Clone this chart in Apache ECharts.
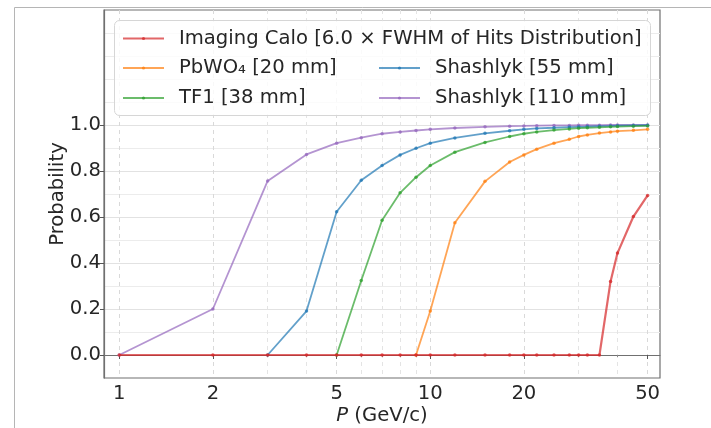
<!DOCTYPE html>
<html>
<head>
<meta charset="utf-8">
<script src="https://cdn.jsdelivr.net/npm/echarts@6/dist/echarts.min.js"></script>
<style>
  html, body { margin: 0; padding: 0; background: #fff; }
  #chart { width: 711px; height: 428px; }
</style>
</head>
<body>
<div id="chart"></div>
<script>
// Momentum grid (GeV/c) shared by all curves; each curve covers the tail of it
const momentum = [1, 2, 3, 4, 5, 6, 7, 8, 9, 10, 12, 15, 18, 20, 22, 25, 28, 30, 32, 35, 38, 40, 45, 50];

const imagingCalo = [0, 0, 0, 0, 0, 0, 0, 0, 0, 0, 0, 0, 0, 0, 0, 0, 0, 0, 0, 0, 0.32, 0.443, 0.602, 0.694];
const pbwo4 = [0, 0.191, 0.575, 0.755, 0.839, 0.870, 0.895, 0.921, 0.938, 0.950, 0.957, 0.965, 0.970, 0.973, 0.977, 0.981];
const tf1 = [0, 0.324, 0.586, 0.705, 0.773, 0.824, 0.882, 0.924, 0.950, 0.962, 0.970, 0.978, 0.983, 0.986, 0.988, 0.990, 0.992, 0.993, 0.995, 0.996];
const shashlyk55 = [0, 0.191, 0.623, 0.760, 0.824, 0.870, 0.899, 0.921, 0.944, 0.964, 0.975, 0.981, 0.985, 0.988, 0.991, 0.992, 0.993, 0.995, 0.996, 0.997, 0.998, 0.999];
const shashlyk110 = [0, 0.20, 0.757, 0.872, 0.921, 0.945, 0.962, 0.970, 0.976, 0.981, 0.987, 0.992, 0.995, 0.996, 0.997, 0.998, 0.998, 0.999, 0.999, 0.999, 1.0, 1.0, 1.0, 1.0];

const seriesNames = [
  'Imaging Calo [6.0 × FWHM of Hits Distribution]',
  'PbWO₄ [20 mm]',
  'TF1 [38 mm]',
  'Shashlyk [55 mm]',
  'Shashlyk [110 mm]'
];
const seriesColors = ['#d62728', '#ff7f0e', '#2ca02c', '#1f77b4', '#9467bd'];

const xMajorTicks = [1, 2, 5, 10, 20, 50];
const xMinorTicks = [3, 4, 6, 7, 8, 9, 30, 40];
const yMajorTicks = [0, 0.2, 0.4, 0.6, 0.8, 1.0];
const yMinorGrid = [0.1, 0.3, 0.5, 0.7, 0.9, 1.1, 1.2, 1.3, 1.4];

// Pair each curve with the tail of the momentum grid
function pairs(values) {
  const p = momentum.slice(momentum.length - values.length);
  return values.map((v, i) => [p[i], v]);
}

const FONT = 'DejaVu Sans';
const FS = 19.6;
const TXT = '#262626';

function makeSeries(name, values, color, z, width) {
  return {
    name: name,
    type: 'line',
    data: pairs(values),
    z: z,
    symbol: 'circle',
    symbolSize: 3.5,
    showSymbol: true,
    animation: false,
    lineStyle: { color: color, width: width, opacity: 0.7 },
    itemStyle: { color: color, opacity: 0.75 },
    emphasis: { disabled: true }
  };
}

const chart = echarts.init(document.getElementById('chart'), null, { renderer: 'canvas' });

const legendBase = {
  orient: 'vertical',
  padding: 0,
  itemWidth: 41,
  itemHeight: 4,
  itemGap: 9,
  selectedMode: false,
  textStyle: { fontFamily: FONT, fontSize: FS, color: TXT, lineHeight: 21, padding: [0, 0, 0, 10] },
  z: 6
};

chart.setOption({
  animation: false,
  grid: {
    left: 104, top: 10, right: 51, bottom: 50,
    outerBoundsMode: 'none', containLabel: false,
    show: true, borderColor: '#707070', borderWidth: 1.2, backgroundColor: 'transparent'
  },
  xAxis: [
    {
      type: 'log', logBase: 10, min: 0.893, max: 54.8,
      name: '{i|P} (GeV/c)', nameLocation: 'middle', nameGap: 28, nameMoveOverlap: false,
      nameTextStyle: {
        fontFamily: FONT, fontSize: FS, color: TXT,
        rich: { i: { fontFamily: FONT, fontSize: FS, fontStyle: 'italic', color: TXT } }
      },
      axisLine: { show: true, lineStyle: { color: '#707070', width: 1.2 } },
      axisTick: { show: true, length: 4, customValues: xMajorTicks, lineStyle: { color: '#555' } },
      axisLabel: {
        customValues: xMajorTicks, margin: 6,
        fontFamily: FONT, fontSize: FS, color: TXT,
        formatter: v => String(Math.round(v))
      },
      splitLine: { show: true, lineStyle: { color: '#d9d9d9', type: [4, 4], width: 1 } },
      minorTick: { show: false }, minorSplitLine: { show: false }
    },
    {
      type: 'log', logBase: 10, min: 0.893, max: 54.8, position: 'bottom',
      axisLine: { show: false },
      axisTick: { show: true, length: 2, customValues: xMinorTicks, lineStyle: { color: '#888' } },
      axisLabel: { show: false },
      splitLine: { show: true, lineStyle: { color: '#e4e4e4', type: [4, 4], width: 1 } }
    }
  ],
  yAxis: [
    {
      type: 'value', min: -0.1, max: 1.5, interval: 0.1,
      name: 'Probability', nameLocation: 'middle', nameGap: 36, nameRotate: 90, nameMoveOverlap: false,
      nameTextStyle: { fontFamily: FONT, fontSize: FS, color: TXT },
      axisLine: { show: true, lineStyle: { color: '#707070', width: 1.2 } },
      axisTick: { show: true, length: 4, customValues: yMajorTicks, lineStyle: { color: '#555' } },
      axisLabel: {
        customValues: yMajorTicks, margin: 3,
        fontFamily: FONT, fontSize: FS, color: TXT,
        formatter: v => v.toFixed(1)
      },
      splitLine: { show: true, lineStyle: { color: '#e2e2e2', width: 1 } }
    },
    {
      type: 'value', min: -0.1, max: 1.5, interval: 0.1, position: 'left',
      axisLine: { show: false },
      axisTick: { show: false, customValues: yMinorGrid },
      axisLabel: { show: false },
      splitLine: { show: true, lineStyle: { color: '#ececec', width: 1 } }
    }
  ],
  legend: [
    Object.assign({}, legendBase, { data: [seriesNames[0]], left: 122, top: 28 }),
    Object.assign({}, legendBase, { data: [seriesNames[1], seriesNames[2]], left: 122, top: 57.5 }),
    Object.assign({}, legendBase, { data: [seriesNames[3], seriesNames[4]], left: 378, top: 57.5 })
  ],
  graphic: [
    // legend frame
    {
      type: 'rect', z: 5, silent: true,
      shape: { x: 114.5, y: 20.5, width: 536, height: 95, r: 5 },
      style: { fill: 'rgba(255,255,255,0.8)', stroke: '#d6d6d6', lineWidth: 1 }
    },
    // outer frame of the figure
    { type: 'line', z: 1, silent: true, shape: { x1: 14.5, y1: 7.5, x2: 711, y2: 7.5 }, style: { stroke: '#b5b5b5', lineWidth: 1 } },
    { type: 'line', z: 1, silent: true, shape: { x1: 14.5, y1: 7.5, x2: 14.5, y2: 428 }, style: { stroke: '#b5b5b5', lineWidth: 1 } }
  ],
  series: [
    makeSeries(seriesNames[4], shashlyk110, seriesColors[4], 2, 1.8),
    makeSeries(seriesNames[3], shashlyk55, seriesColors[3], 2, 1.8),
    makeSeries(seriesNames[2], tf1, seriesColors[2], 2, 1.8),
    makeSeries(seriesNames[1], pbwo4, seriesColors[1], 2, 1.8),
    makeSeries(seriesNames[0], imagingCalo, seriesColors[0], 3, 2.2)
  ]
});
</script>
</body>
</html>
